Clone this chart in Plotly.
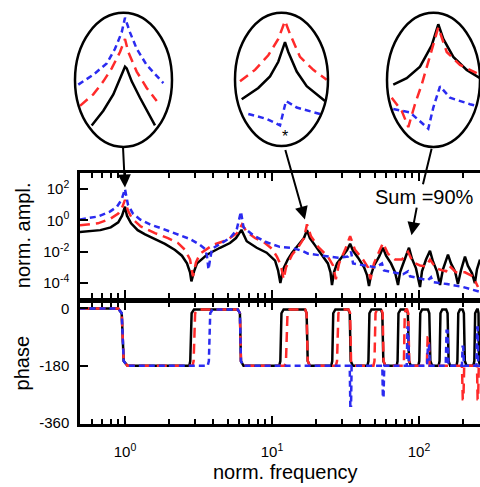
import math
import plotly.graph_objects as go

# ---------------- data ----------------
# amplitude, black (solid)
blk_f = [0.49, 0.68, 0.80, 0.90, 0.955, 1.0, 1.032, 1.10, 1.22, 1.37, 1.60, 1.87, 2.19, 2.44, 2.64, 2.77, 2.83,
         2.95, 3.09, 3.61, 4.43, 5.18, 5.69, 6.01, 6.2,
         6.73, 7.87, 9.2, 10.5, 11.0, 11.4,
         11.9, 12.8, 13.7, 15.5, 16.5, 17.3,
         18.1, 19.3, 21.9, 24.0, 25.0, 25.6,
         26.4, 27.7, 30.7, 32.4, 34.0,
         35.6, 38.5, 42.3, 44.3, 45.7,
         47.1, 49.4, 53.5, 56.9,
         59.7, 64.5, 68.7, 72.0,
         74.3, 79.1, 85.5,
         89.6, 95.4, 101.6,
         104.8, 111.6, 118.8,
         124.5, 132.5, 139,
         145.6, 157.5,
         165, 176, 184,
         193, 205.5,
         215, 229.5, 240,
         248, 260]
blk_a = [0.18, 0.24, 0.36, 0.75, 2.0, 7.5, 2.0, 0.65, 0.24, 0.13, 0.065, 0.032, 0.013, 0.0056, 0.0018, 0.00049, 0.00013,
         0.00056, 0.0018, 0.0065, 0.018, 0.036, 0.075, 0.155, 0.25,
         0.047, 0.018, 0.0087, 0.0027, 0.00065, 0.0001,
         0.00075, 0.0032, 0.0087, 0.036, 0.075, 0.24,
         0.075, 0.032, 0.0065, 0.0018, 0.00049, 0.000075,
         0.00049, 0.0018, 0.0065, 0.013, 0.032,
         0.0115, 0.0042, 0.001, 0.00032, 0.000065,
         0.00032, 0.0013, 0.0049, 0.018,
         0.0056, 0.0018, 0.00049, 0.000075,
         0.00049, 0.0024, 0.018,
         0.0036, 0.00087, 0.000056,
         0.00056, 0.0032, 0.0115,
         0.0024, 0.00056, 0.000075,
         0.00075, 0.0065,
         0.0018, 0.00056, 0.000087,
         0.00065, 0.0049,
         0.0013, 0.00042, 0.0001,
         0.00075, 0.0032]

# amplitude, red (long dash)
red_f = [0.494, 0.655, 0.80, 0.90, 0.955, 1.0, 1.048, 1.116, 1.28, 1.60, 1.96, 2.29, 2.56, 2.77, 2.90,
         3.04, 3.24, 3.97, 4.94, 5.78, 6.25,
         6.76, 7.66, 8.96, 10.0, 10.8, 11.5, 12.0,
         12.45, 13.7, 15.3, 16.5, 17.3,
         18.4, 20.6, 24.0, 26.0, 27.2,
         28.6, 31.4, 34.0,
         36.7, 41.6, 45.0, 46.8,
         49.4, 53.5, 56.9,
         61.5, 68.7, 76.6, 84.2,
         91.0, 101.6, 111.6, 118.8,
         130.7, 152.7, 160, 178.5, 205.5, 233, 252]
red_a = [0.487, 0.65, 1.33, 2.74, 6.5, 20.5, 4.2, 1.33, 0.42, 0.154, 0.075, 0.0365, 0.0133, 0.0032, 0.00027,
         0.0021, 0.0075, 0.0274, 0.056, 0.154, 0.56,
         0.178, 0.075, 0.0365, 0.0154, 0.0049, 0.00133, 0.000178,
         0.001, 0.0065, 0.0237, 0.075, 0.56,
         0.1, 0.0205, 0.0049, 0.00133, 0.000178,
         0.0018, 0.0133, 0.1,
         0.0133, 0.0032, 0.001, 0.000178,
         0.0018, 0.01, 0.0365,
         0.0075, 0.0032, 0.0032, 0.01,
         0.0021, 0.00133, 0.00115, 0.0032,
         0.00087, 0.00056, 0.00133, 0.00049, 0.00049, 0.00027, 0.000056]

# amplitude, blue (short dash)
blu_f = [0.494, 0.655, 0.79, 0.882, 0.947, 1.0, 1.048, 1.133, 1.265, 1.48, 1.76, 2.29, 2.77, 3.24, 3.50, 3.61,
         3.70, 3.79, 3.91, 4.43, 5.18, 5.74, 6.15, 6.40, 7.43, 9.1, 11.3, 13.7, 16.0, 17.6, 21.9, 28.1, 32.9,
         34.5, 35.6, 42.9, 51.0, 56.0, 57.8, 77.8, 84.2, 86.9, 115, 120.7, 124.5, 155, 199, 260]
blu_a = [1.155, 1.78, 3.65, 7.5, 20.5, 100, 10, 2.74, 1.155, 0.56, 0.316, 0.133, 0.065, 0.0274, 0.0154, 0.0056,
         0.00075, 0.0032, 0.0154, 0.0316, 0.075, 0.237, 3.65, 0.365, 0.115, 0.042, 0.0205, 0.0178, 0.0115, 0.0075,
         0.0056, 0.0042, 0.0049, 0.01, 0.0018, 0.00133, 0.001, 0.0018, 0.00065, 0.000365, 0.00056, 0.00027,
         0.000154, 0.000237, 0.000115, 0.0000866, 0.0000562, 0.0000274]

# phase (degrees)
blk_pf = [0.49, 0.90, 0.95, 0.98, 1.04,
          2.74, 2.78, 2.84, 2.95,
          5.85, 6.05, 6.15, 6.4,
          11.2, 11.4, 11.6, 12.0,
          16.8, 17.2, 17.5, 18.1,
          25.3, 25.7, 26.1, 27.0,
          33.0, 33.8, 34.3, 35.5,
          44.6, 45.3, 46.0, 47.5,
          55.0, 56.3, 57.2, 59.0,
          70.5, 71.5, 72.5, 75.0,
          82.0, 84.0, 85.5, 88.0,
          99.0, 100.5, 102.0, 105.0,
          115.0, 117.5, 119.5, 123.0,
          136.0, 138.0, 140.0, 144.0,
          153.0, 156.5, 159.0, 163.0,
          180.0, 182.5, 185.0, 190.0,
          198.0, 202.0, 205.0, 211.0,
          234.0, 238.0, 241.0, 248.0,
          251.0, 254.0, 256.0, 260.0]
blk_ph = [0, 0, -15, -165, -180,
          -180, -165, -15, -3,
          -3, -15, -165, -180,
          -180, -165, -15, -3,
          -3, -15, -165, -180,
          -180, -165, -15, -3,
          -3, -15, -165, -180,
          -180, -165, -15, -3,
          -3, -15, -165, -180,
          -180, -165, -15, -3,
          -3, -15, -165, -180,
          -180, -165, -15, -3,
          -3, -15, -165, -180,
          -180, -165, -15, -3,
          -3, -15, -165, -180,
          -180, -165, -15, -3,
          -3, -15, -165, -180,
          -180, -165, -15, -3,
          -3, -15, -165, -180]

red_pf = [0.49, 0.90, 0.95, 0.98, 1.04,
          2.88, 2.93, 3.0, 3.12,
          5.85, 6.05, 6.15, 6.4,
          12.2, 12.45, 12.75, 13.2,
          16.8, 17.2, 17.5, 18.1,
          27.2, 27.7, 28.3, 29.2,
          33.2, 34.0, 34.5, 35.7,
          49.0, 49.8, 50.6, 52.0,
          55.5, 56.6, 57.4, 59.0,
          78.0, 79.0, 80.0, 81.5,
          83.0, 84.5, 85.8, 88.0,
          113.0, 114.5, 116.5, 118.0,
          196.0, 198.5, 200.5, 203.0,
          248.0, 250.5, 252.5, 255.0, 260.0]
red_ph = [0, 0, -15, -165, -180,
          -180, -165, -15, -3,
          -3, -15, -165, -180,
          -180, -165, -15, -3,
          -3, -15, -165, -180,
          -180, -165, -15, -3,
          -3, -15, -165, -180,
          -180, -165, -15, -3,
          -3, -15, -165, -180,
          -180, -165, -15, -3,
          -3, -15, -165, -180,
          -180, -90, -90, -180,
          -180, -285, -285, -180,
          -180, -285, -285, -180, -180]

blu_pf = [0.49, 0.90, 0.95, 0.98, 1.04,
          3.65, 3.72, 3.8, 3.95,
          5.85, 6.05, 6.15, 6.4,
          33.8, 34.1, 34.5, 34.8,
          56.3, 56.8, 57.4, 58.0,
          82.5, 83.5, 84.5, 85.5,
          113.5, 115.0, 117.0, 118.5,
          152.0, 154.0, 156.5, 158.5,
          196.0, 198.0, 200.0, 202.0,
          246.0, 248.5, 251.0, 253.0, 260.0]
blu_ph = [0, 0, -15, -165, -180,
          -180, -165, -15, -3,
          -3, -15, -165, -180,
          -180, -305, -305, -180,
          -180, -280, -280, -180,
          -180, -60, -60, -180,
          -180, -115, -115, -180,
          -180, -70, -70, -180,
          -180, -120, -120, -180,
          -180, -60, -60, -180, -180]

# insets (zoomed views, normalised ellipse coordinates)
in1_blk_u = [-0.656, -0.416, -0.210, -0.072, 0.031, 0.066, 0.169, 0.340, 0.478, 0.649]
in1_blk_v = [-0.679, -0.460, -0.216, 0.026, 0.197, 0.172, -0.022, -0.266, -0.460, -0.679]
in1_red_u = [-0.897, -0.623, -0.416, -0.243, -0.072, 0.031, 0.099, 0.272, 0.478, 0.685]
in1_red_v = [-0.387, -0.216, -0.022, 0.172, 0.416, 0.610, 0.416, 0.124, -0.120, -0.314]
in1_blu_u = [-0.932, -0.623, -0.346, -0.175, -0.037, 0.031, 0.134, 0.272, 0.478, 0.821]
in1_blu_v = [-0.070, 0.076, 0.245, 0.464, 0.708, 0.927, 0.708, 0.464, 0.222, -0.047]

in2_blk_u = [-0.856, -0.499, -0.247, -0.069, 0.075, 0.146, 0.327, 0.542, 0.935]
in2_blk_v = [-0.299, -0.128, 0.044, 0.265, 0.559, 0.412, 0.118, -0.103, -0.324]
in2_red_u = [-0.892, -0.570, -0.284, -0.069, 0.075, 0.183, 0.398, 0.684, 0.972]
in2_red_v = [-0.029, 0.143, 0.363, 0.607, 0.878, 0.681, 0.338, 0.143, -0.004]
in2_blu_u = [-0.714, -0.318, -0.032, 0.097, 0.327, 0.828]
in2_blu_v = [-0.519, -0.593, -0.691, -0.324, -0.422, -0.519]

in3_blk_u = [-0.865, -0.576, -0.290, -0.039, 0.103, 0.211, 0.426, 0.714, 1.0]
in3_blk_v = [-0.070, 0.026, 0.197, 0.514, 0.829, 0.610, 0.343, 0.149, 0.026]
in3_red_u = [-0.899, -0.684, -0.542, -0.398, -0.254, -0.112, 0.032, 0.103, 0.284, 0.570, 0.929]
in3_red_v = [-0.266, -0.460, -0.704, -0.362, -0.070, 0.270, 0.610, 0.781, 0.416, 0.222, 0.099]
in3_blu_u = [-0.865, -0.505, -0.112, -0.004, 0.140, 0.355, 0.785, 0.929]
in3_blu_v = [-0.435, -0.485, -0.727, -0.412, -0.095, -0.266, -0.362, -0.387]

x_tick_vals = [1, 10, 100]
x_tick_text = ["10<sup>0</sup>", "10<sup>1</sup>", "10<sup>2</sup>"]
amp_tick_vals = [1e2, 1, 1e-2, 1e-4]
amp_tick_text = ["10<sup>2</sup>", "10<sup>0</sup>", "10<sup>-2</sup>", "10<sup>-4</sup>"]
ph_tick_vals = [0, -180, -360]
ph_tick_text = ["0", "-180", "-360"]

# ---------------- styling / layout ----------------
W, H = 480, 487
def px(x): return x / W
def py(y): return 1 - y / H

BLACK = "#000000"
RED = "#ff2a2a"
BLUE = "#2b2bf0"
LW = 2.5
RED_DASH = "10px,6px"
BLUE_DASH = "6px,4px"
FONT = "Liberation Sans, Arial, Helvetica, sans-serif"

minor_vals = [v * m for m in (0.1, 1, 10, 100) for v in range(2, 10)]

fig = go.Figure()

def add(xs, ys, color, dash, xa, ya):
    fig.add_trace(go.Scatter(x=xs, y=ys, mode="lines", xaxis=xa, yaxis=ya,
                             line=dict(color=color, width=LW, dash=dash),
                             hoverinfo="skip", showlegend=False))

# amplitude panel (x2/y2)
add(blk_f, blk_a, BLACK, "solid", "x2", "y2")
add(red_f, red_a, RED, RED_DASH, "x2", "y2")
add(blu_f, blu_a, BLUE, BLUE_DASH, "x2", "y2")
# phase panel (x/y)
add(blk_pf, blk_ph, BLACK, "solid", "x", "y")
add(red_pf, red_ph, RED, RED_DASH, "x", "y")
add(blu_pf, blu_ph, BLUE, BLUE_DASH, "x", "y")
# insets
add(in1_blk_u, in1_blk_v, BLACK, "solid", "x3", "y3")
add(in1_red_u, in1_red_v, RED, RED_DASH, "x3", "y3")
add(in1_blu_u, in1_blu_v, BLUE, BLUE_DASH, "x3", "y3")
add(in2_blk_u, in2_blk_v, BLACK, "solid", "x4", "y4")
add(in2_red_u, in2_red_v, RED, RED_DASH, "x4", "y4")
add(in2_blu_u, in2_blu_v, BLUE, BLUE_DASH, "x4", "y4")
add(in3_blk_u, in3_blk_v, BLACK, "solid", "x5", "y5")
add(in3_red_u, in3_red_v, RED, RED_DASH, "x5", "y5")
add(in3_blu_u, in3_blu_v, BLUE, BLUE_DASH, "x5", "y5")

xdom = [px(80), 1.0]
xrange_log = [-0.306, 2.415]

common_x = dict(type="log", range=xrange_log, domain=xdom, showline=True, linewidth=2.5,
                linecolor="black", mirror="ticks", ticks="inside", ticklen=8, tickwidth=2,
                tickcolor="black", showgrid=False, zeroline=False,
                tickvals=x_tick_vals,
                minor=dict(tickmode="array", tickvals=minor_vals, ticks="inside", ticklen=5,
                           tickwidth=1.5, tickcolor="black", showgrid=False))

fig.update_layout(
    width=W, height=H, margin=dict(l=0, r=0, t=0, b=0),
    paper_bgcolor="white", plot_bgcolor="rgba(0,0,0,0)",
    font=dict(family=FONT, color="black", size=15),
    showlegend=False,
    xaxis=dict(common_x, anchor="y", ticktext=x_tick_text, showticklabels=True,
               tickfont=dict(size=15), ticklabelstandoff=12),
    xaxis2=dict(common_x, anchor="y2", matches="x", showticklabels=False),
    yaxis=dict(domain=[py(430), py(306)], range=[-363, 18], showline=True, linewidth=2.5,
               linecolor="black", ticks="inside", ticklen=8, tickwidth=2, tickcolor="black",
               tickvals=ph_tick_vals, ticktext=ph_tick_text, showgrid=False, zeroline=False,
               anchor="x", tickfont=dict(size=15), ticklabelstandoff=5),
    yaxis2=dict(type="log", domain=[py(301), py(174)], range=[-4.94, 3.0], showline=True,
                linewidth=2.5, linecolor="black", ticks="inside", ticklen=8, tickwidth=2,
                tickcolor="black", tickvals=amp_tick_vals, ticktext=amp_tick_text,
                showgrid=False, zeroline=False, anchor="x2", tickfont=dict(size=15),
                ticklabelstandoff=5),
)

insets = [  # (x-axis name, y-axis name, bbox left, right, top, bottom) in pixels
    ("xaxis3", "yaxis3", 75, 172, 10, 147),
    ("xaxis4", "yaxis4", 235, 328, 10, 146),
    ("xaxis5", "yaxis5", 387, 480, 10, 147),
]
shapes = []
for i, (xa, ya, l, r, t, b) in enumerate(insets):
    n = 3 + i
    fig.layout[xa] = dict(domain=[px(l), px(r)], range=[-1, 1], visible=False, anchor=f"y{n}")
    fig.layout[ya] = dict(domain=[py(b), py(t)], range=[-1, 1], visible=False, anchor=f"x{n}")
    shapes.append(dict(type="circle", xref="paper", yref="paper", x0=px(l), x1=px(r),
                       y0=py(b), y1=py(t), line=dict(color="black", width=2.5)))
fig.update_layout(shapes=shapes)

ann = []
def text(s, x, y, size=20, angle=0, **kw):
    ann.append(dict(text=s, x=x, y=y, xref="paper", yref="paper", showarrow=False,
                    textangle=angle, font=dict(size=size, family=FONT, color="black"),
                    xanchor="center", yanchor="middle", **kw))

text("norm. ampl.", px(23), py(237), angle=-90)
text("phase", px(22), py(368), angle=-90)
text("norm. frequency", px(285), py(479))
text("Sum =90%", px(424), py(198))
ann.append(dict(text="*", x=0.075, y=-0.86, xref="x4", yref="y4", showarrow=False,
                font=dict(size=16, family=FONT, color="black")))

def arrow(x, y, ax, ay, head=2):
    ann.append(dict(text="", x=x, y=y, xref="x2", yref="y2", ax=ax, ay=ay,
                    showarrow=True, arrowhead=head, arrowsize=1.3, arrowwidth=2,
                    arrowcolor="black", standoff=0, startstandoff=0))

arrow(0.0, 2.1, -2, -41)
arrow(1.224, 0.06, -20, -71)
arrow(1.949, -0.94, 5.5, -29)
arrow(2.027, 2.31, 9, -37, head=0)
fig.update_layout(annotations=ann)

fig.write_html("out.html", config={"displayModeBar": False},
               post_script="document.body.style.margin='0px';")
